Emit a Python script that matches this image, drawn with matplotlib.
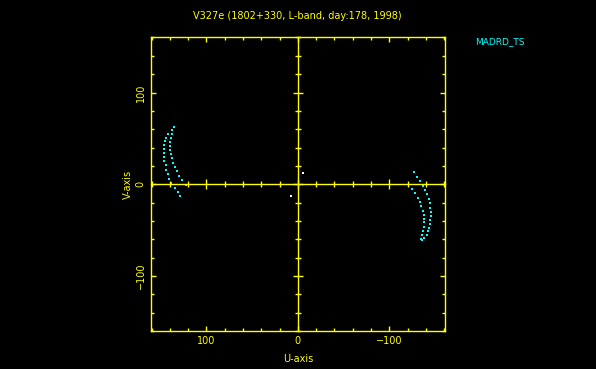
import matplotlib
matplotlib.use("Agg")
import matplotlib.pyplot as plt
from matplotlib.ticker import MultipleLocator

YELLOW = "#ffff00"
CYAN = "#00ffff"

title = "V327e (1802+330, L-band, day:178, 1998)"
station = "MADRD_TS"

# tracks, U and V in the plot's units
left_outer_u = [135.5, 137.3, 142.1, 143.8, 145.4, 146.0, 146.4, 146.4, 146.4,
                146.0, 144.6, 143.8, 142.1, 140.5, 138.4, 134.8, 131.5, 128.5]
left_outer_v = [62.6, 58.7, 55.0, 50.7, 47.4, 43.0, 38.7, 34.3, 29.3,
                25.0, 20.7, 15.5, 11.2, 6.1, 1.4, -3.7, -8.4, -13.0]
left_inner_u = [138.0, 139.1, 139.5, 139.5, 139.5, 138.4, 137.7, 136.2, 134.4,
                132.6, 129.6, 126.3, 122.0]
left_inner_v = [54.3, 50.7, 46.0, 41.6, 37.3, 32.9, 28.3, 23.5, 19.1,
                14.5, 9.3, 4.3, -0.8]

right_outer_u = [-127.5, -130.8, -134.1, -136.6, -139.2, -141.7, -143.2, -144.3,
                 -145.0, -145.4, -145.4, -145.0, -144.7, -144.0, -142.6, -141.4,
                 -138.5, -136.0]
right_outer_v = [13.0, 8.3, 3.6, -1.8, -6.2, -10.9, -16.3, -20.7,
                 -25.4, -30.1, -34.8, -39.1, -43.2, -47.5, -51.5, -55.1,
                 -58.5, -61.3]
right_inner_u = [-125.0, -128.6, -131.6, -133.3, -135.2, -136.6, -137.7, -138.1,
                 -138.1, -138.1, -137.4, -136.0, -134.9]
right_inner_v = [-4.8, -9.8, -14.6, -19.2, -23.9, -28.7, -33.4, -37.7,
                 -41.7, -46.1, -50.8, -55.4, -59.8]

short_u = [-5.5, 7.2]
short_v = [12.6, -12.7]

xlim = (161, -161)
ylim = (-160, 160)

plt.rcParams["font.family"] = "DejaVu Sans"

fig = plt.figure(figsize=(5.96, 3.69), dpi=100, facecolor="black")
rect = [0.2528, 0.1030, 0.4938, 0.7954]
ax = fig.add_axes(rect, facecolor="black")

for u, v in [(left_outer_u, left_outer_v), (left_inner_u, left_inner_v),
             (right_outer_u, right_outer_v), (right_inner_u, right_inner_v)]:
    ax.plot(u, v, linestyle="none", marker="s", markersize=1.8,
            color=CYAN, markeredgewidth=0)
ax.plot(short_u, short_v, linestyle="none", marker="s", markersize=1.8,
        color="white", markeredgewidth=0)

ax.set_xlim(*xlim)
ax.set_ylim(*ylim)
for s in ax.spines.values():
    s.set_color(YELLOW)
    s.set_linewidth(1.0)
ax.xaxis.set_major_locator(MultipleLocator(100))
ax.xaxis.set_minor_locator(MultipleLocator(20))
ax.yaxis.set_major_locator(MultipleLocator(100))
ax.yaxis.set_minor_locator(MultipleLocator(20))
ax.tick_params(which="both", direction="in", colors=YELLOW, width=1.0,
               top=True, right=True, labelsize=7, pad=3.5)
ax.tick_params(which="major", length=3.8)
ax.tick_params(which="minor", length=2.2)
for lab in ax.get_yticklabels():
    lab.set_rotation(90)
    lab.set_va("center")
ax.set_xlabel("U-axis", color=YELLOW, fontsize=7, labelpad=6)
ax.set_ylabel("V-axis", color=YELLOW, fontsize=7, labelpad=2)

# axes through the origin with ticks on both sides
ax0 = fig.add_axes(rect, facecolor="none", zorder=3)
ax0.set_xlim(*xlim)
ax0.set_ylim(*ylim)
ax0.spines["top"].set_visible(False)
ax0.spines["right"].set_visible(False)
ax0.spines["left"].set_position(("data", 0))
ax0.spines["bottom"].set_position(("data", 0))
for s in ax0.spines.values():
    s.set_color(YELLOW)
    s.set_linewidth(1.0)
ax0.xaxis.set_major_locator(MultipleLocator(100))
ax0.xaxis.set_minor_locator(MultipleLocator(20))
ax0.yaxis.set_major_locator(MultipleLocator(100))
ax0.yaxis.set_minor_locator(MultipleLocator(20))
ax0.tick_params(which="both", direction="inout", colors=YELLOW, width=1.0,
                labelbottom=False, labelleft=False)
ax0.tick_params(which="major", length=6.5)
ax0.tick_params(which="minor", length=4.0)

fig.text(0.499, 0.956, title, color=YELLOW, fontsize=7,
         ha="center", va="center")
fig.text(0.797, 0.886, station, color=CYAN, fontsize=6.5,
         ha="left", va="center")

fig.savefig("out.png", dpi=100, facecolor="black")
